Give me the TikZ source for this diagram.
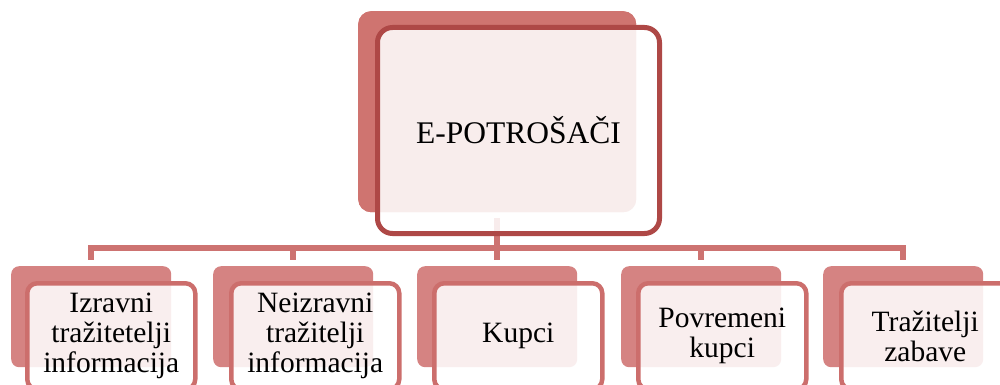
\documentclass[tikz,border=0pt]{standalone}
\usepackage{fontspec}
\setmainfont{Liberation Serif}
\definecolor{backbot}{HTML}{D58382}
\definecolor{backtop}{HTML}{CF7470}
\definecolor{edgebot}{HTML}{CC6E6C}
\definecolor{edgetop}{HTML}{AE4846}
\definecolor{conncol}{HTML}{CD7371}
\tikzset{
  backbox/.style={fill=backbot, draw=none, rounded corners=8pt, anchor=north west,
    minimum width=160pt, minimum height=101pt, inner sep=0pt},
  frontbox/.style={fill=white, fill opacity=0.87, text opacity=1, draw=edgebot, line width=4.5pt,
    rounded corners=10pt, anchor=north west, minimum width=168pt, minimum height=106pt,
    inner sep=0pt, align=center, text width=164pt,
    font=\fontsize{29.5}{30}\selectfont},
  conn/.style={draw=conncol, line width=5.5pt},
}
\begin{document}
\begin{tikzpicture}[x=1pt,y=-1pt]
\useasboundingbox (0,0) rectangle (1000,385);
\coordinate (bus) at (0,248);
% top box
\node[backbox, fill=backtop, rounded corners=13pt, minimum width=278pt, minimum height=201pt] (tb) at (358,11) {};
% bottom back boxes (positions only, for connectors)
\path (11,266) node[backbox, fill=none] (b1) {}
      (213,266) node[backbox, fill=none] (b2) {}
      (417,266) node[backbox, fill=none] (b3) {}
      (621,266) node[backbox, fill=none] (b4) {}
      (823,266) node[backbox, fill=none] (b5) {};
% connectors
\draw[conn, shorten <=6pt] (tb.south) -- (tb.south |- bus);
\draw[conn, line cap=rect] (b1 |- bus) -- (b5 |- bus);
\foreach \b in {b1,b2,b3,b4,b5}{
  \draw[conn, shorten >=6pt] (\b |- bus) -- (\b.north);
}
% redraw top back box over connector
\node[backbox, fill=backtop, rounded corners=13pt, minimum width=278pt, minimum height=201pt] at (358,11) {};
\node[frontbox, draw=edgetop, line width=5pt, rounded corners=15pt, minimum width=282pt, minimum height=206pt,
  text width=270pt, font=\fontsize{31.5}{33}\selectfont] (tf) at (375,25) {E-POTROŠAČI};
% bottom boxes
\node[backbox] at (11,266) {};
\node[frontbox] (f1) at (25,281) {Izravni\\tražitetelji\\informacija};
\node[backbox] at (213,266) {};
\node[frontbox] (f2) at (229,281) {Neizravni\\tražitelji\\informacija};
\node[backbox] at (417,266) {};
\node[frontbox] (f3) at (432,281) {Kupci};
\node[backbox] at (621,266) {};
\node[frontbox] (f4) at (636,281) {Povremeni\\kupci};
\node[backbox] at (823,266) {};
\node[frontbox] (f5) at (839,281) {Tražitelji\\zabave};
\end{tikzpicture}
\end{document}
